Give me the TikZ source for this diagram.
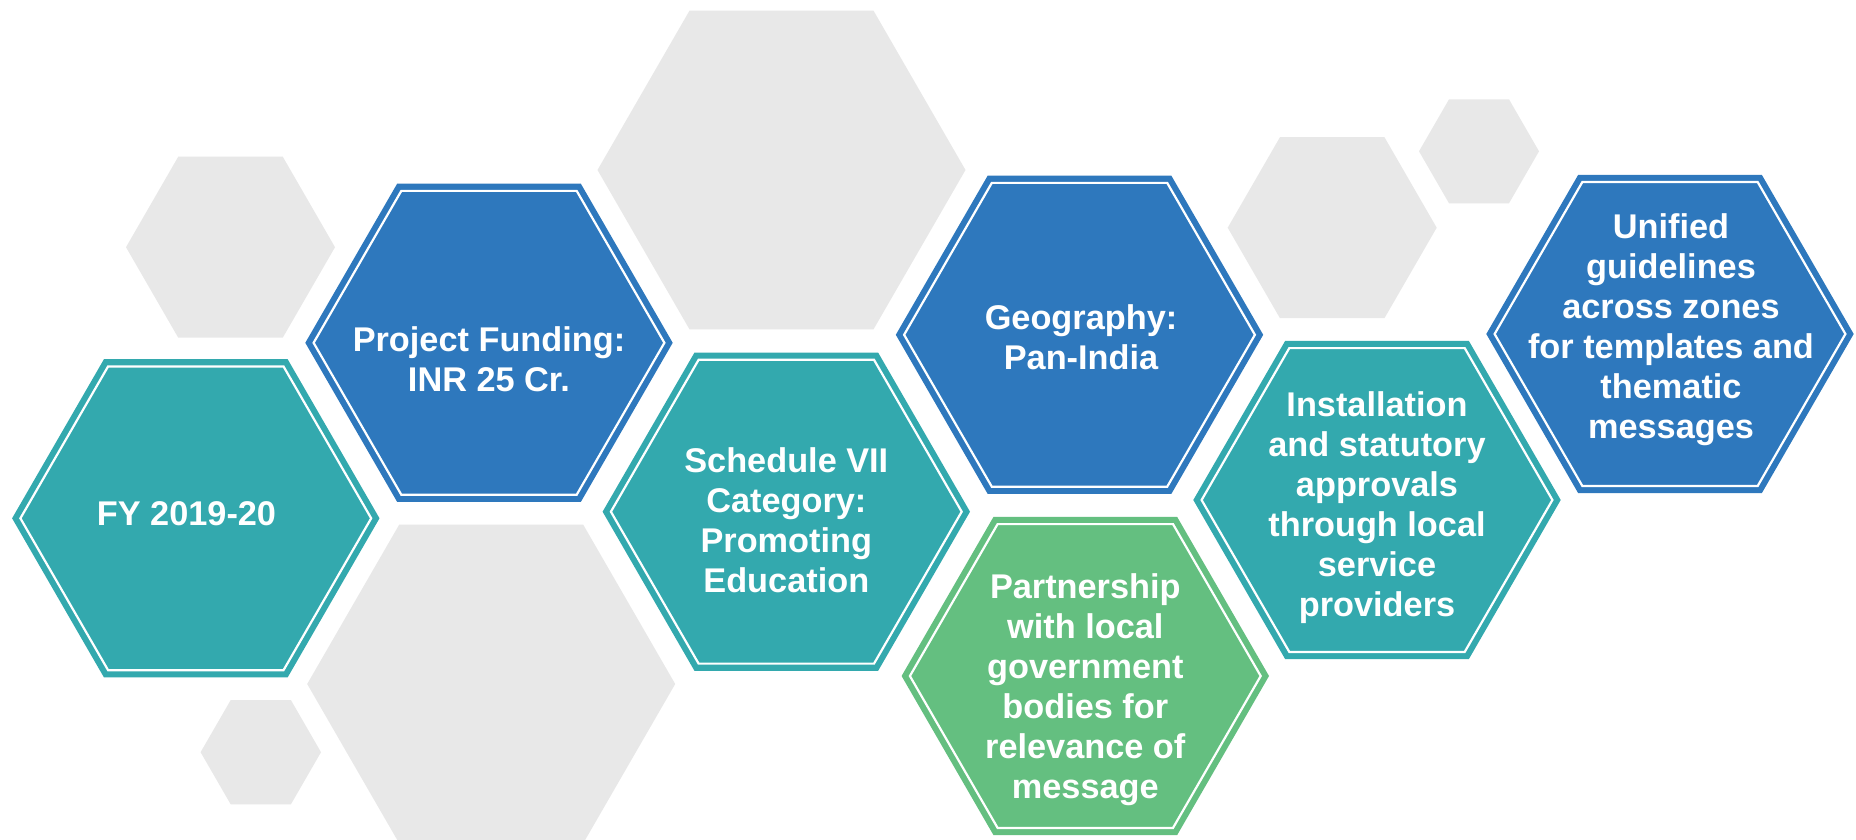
\documentclass[tikz,border=0pt]{standalone}
\usepackage{fontspec}
\setmainfont{Liberation Sans}

\definecolor{hexteal}{HTML}{33A9AE}
\definecolor{hexblue}{HTML}{2E78BD}
\definecolor{hexgreen}{HTML}{64BF80}
\definecolor{hexgrey}{HTML}{E8E8E8}

% flat-topped hexagon path: centre x, centre y, circumradius
\newcommand\hexat[3]{({#1+#3},{#2}) -- ++(120:{#3}) -- ++(180:{#3}) -- ++(240:{#3}) -- ++(300:{#3}) -- ++(0:{#3}) -- cycle}
% coloured card with an inset white rule: centre x, centre y, colour
\newcommand\hexcard[3]{%
  \fill[#3] \hexat{#1}{#2}{183.7};
  \draw[cardrule] \hexat{#1}{#2}{175.4};
}

\tikzset{
  cardrule/.style={white, line width=2.2pt, line join=miter},
  backhex/.style={fill=hexgrey},
  % anchored on the baseline of the last line
  cardtext/.style={font=\bfseries\fontsize{34.3}{40}\selectfont, text=white,
    align=center, inner sep=0pt, anchor=base},
}

\begin{document}
\begin{tikzpicture}[x=1pt, y=-1pt]
  \useasboundingbox (0,0) rectangle (1856,840);
  \fill[white] (0,0) rectangle (1856,840);

  % background honeycomb
  \fill[backhex] \hexat{781.5}{170}{184};
  \fill[backhex] \hexat{491.2}{684}{184};
  \fill[backhex] \hexat{230.5}{247.2}{104.5};
  \fill[backhex] \hexat{260.8}{752.2}{60.2};
  \fill[backhex] \hexat{1332.2}{227.7}{104.5};
  \fill[backhex] \hexat{1479}{151.3}{60};

  % cards
  \hexcard{195.8}{518.3}{hexteal}
  \hexcard{489}{342.8}{hexblue}
  \hexcard{786.3}{511.7}{hexteal}
  \hexcard{1079.5}{334.8}{hexblue}
  \hexcard{1085.3}{676}{hexgreen}
  \hexcard{1377}{500}{hexteal}
  \hexcard{1670}{334}{hexblue}

  % card texts
  \node[cardtext] (fy) at (186.5,525) {FY 2019-20};
  \node[cardtext] (fund) at (489,391.7) {Project Funding:\\INR 25 Cr.};
  \node[cardtext] (sched) at (786.3,592.7) {Schedule VII\\Category:\\Promoting\\Education};
  \node[cardtext] (geo) at (1081,369.3) {Geography:\\Pan-India};
  \node[cardtext] (part) at (1085.3,798.3) {Partnership\\with local\\government\\bodies for\\relevance of\\message};
  \node[cardtext] (inst) at (1377,616) {Installation\\and statutory\\approvals\\through local\\service\\providers};
  \node[cardtext] (unif) at (1671,438.7) {Unified\\guidelines\\across zones\\for templates and\\thematic\\messages};
\end{tikzpicture}
\end{document}
